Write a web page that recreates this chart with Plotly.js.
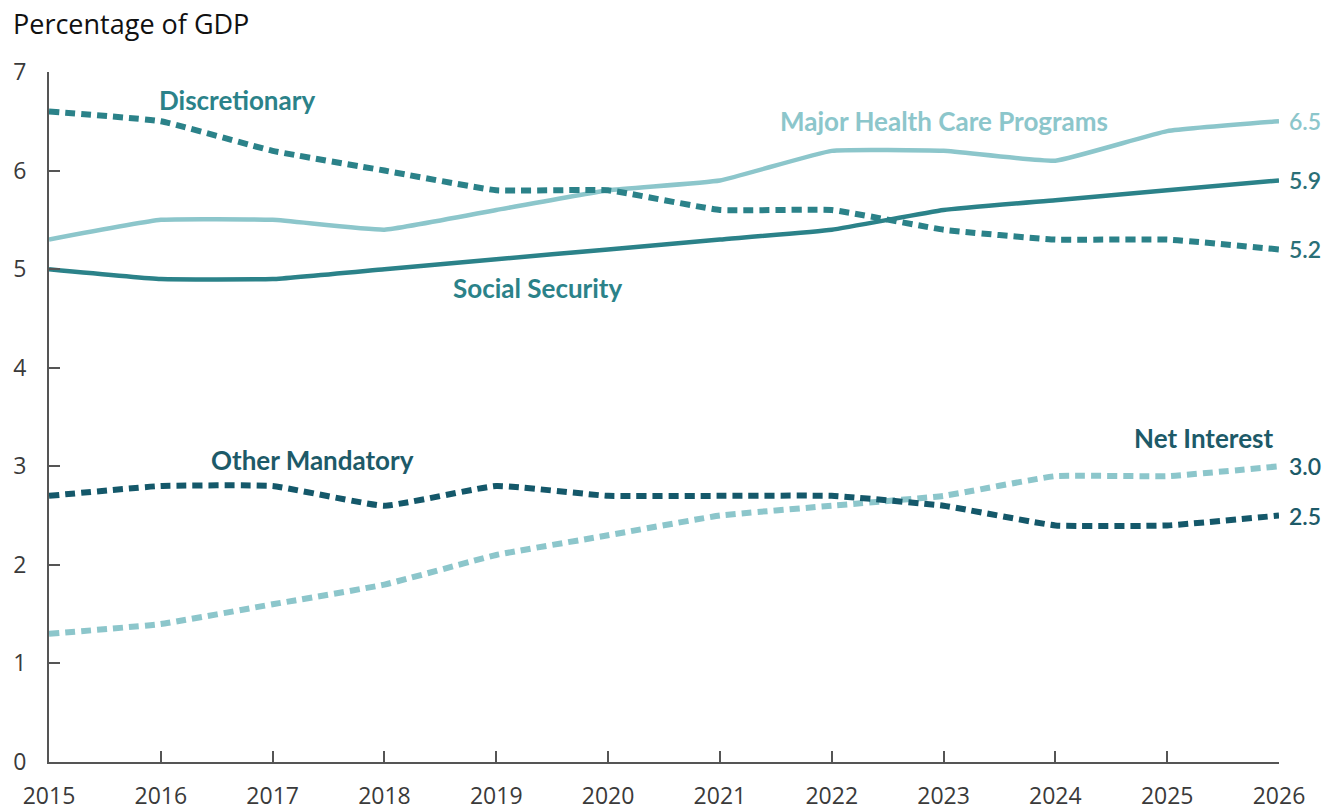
<!DOCTYPE html>
<html>
<head>
<meta charset="utf-8">
<script src="https://cdn.plot.ly/plotly-3.0.1.min.js"></script>
<style>html,body{margin:0;padding:0;background:#fff}#chart{width:1327px;height:811px}</style>
</head>
<body>
<div id="chart"></div>
<script>
const years = [2015,2016,2017,2018,2019,2020,2021,2022,2023,2024,2025,2026];
const discretionary = [6.6,6.5,6.2,6.0,5.8,5.8,5.6,5.6,5.4,5.3,5.3,5.2];
const majorHealth = [5.3,5.5,5.5,5.4,5.6,5.8,5.9,6.2,6.2,6.1,6.4,6.5];
const socialSecurity = [5.0,4.9,4.9,5.0,5.1,5.2,5.3,5.4,5.6,5.7,5.8,5.9];
const otherMandatory = [2.7,2.8,2.8,2.6,2.8,2.7,2.7,2.7,2.6,2.4,2.4,2.5];
const netInterest = [1.3,1.4,1.6,1.8,2.1,2.3,2.5,2.6,2.7,2.9,2.9,3.0];
const yTicks = [0,1,2,3,4,5,6,7];

const TEAL = '#2b8289', LIGHT = '#8cc6cb', DARK = '#14586a';
const dash = '10px,6px';
function tr(y, color, d){
  return {x: years, y: y, type:'scatter', mode:'lines', hoverinfo:'skip',
    line:{color: color, width: d ? 6 : 4.5, dash: d || 'solid', shape:'spline', smoothing:0.35}};
}
const data = [
  tr(netInterest, LIGHT, dash),
  tr(otherMandatory, DARK, dash),
  tr(majorHealth, LIGHT),
  tr(socialSecurity, TEAL),
  tr(discretionary, TEAL, dash)
];
const labFont = (c)=>({family:'Lato, "Open Sans", sans-serif', size:26, color:c, weight:700});
const endFont = (c)=>({family:'Lato, sans-serif', size:23, color:c, weight:600});
const last = (a)=>a[a.length-1];
const ann = [
  {x:2016.68, y:6.72, text:'Discretionary', font:labFont('#2b8289'), xanchor:'center', yanchor:'middle'},
  {x:2023.0, y:6.5, text:'Major Health Care Programs', font:labFont('#8cc6cb'), xanchor:'center', yanchor:'middle'},
  {x:2019.37, y:4.81, text:'Social Security', font:labFont('#2b8289'), xanchor:'center', yanchor:'middle'},
  {x:2017.36, y:3.06, text:'Other Mandatory', font:labFont('#1d5a68'), xanchor:'center', yanchor:'middle'},
  {x:2025.96, y:3.29, text:'Net Interest', font:labFont('#1d5a68'), xanchor:'right', yanchor:'middle'},
  {x:2026, y:last(majorHealth), text:last(majorHealth).toFixed(1), font:endFont('#8cc6cb'), xanchor:'left', yanchor:'middle', xshift:8},
  {x:2026, y:last(socialSecurity), text:last(socialSecurity).toFixed(1), font:endFont('#2a6f77'), xanchor:'left', yanchor:'middle', xshift:8},
  {x:2026, y:last(discretionary), text:last(discretionary).toFixed(1), font:endFont('#2a6f77'), xanchor:'left', yanchor:'middle', xshift:8},
  {x:2026, y:last(netInterest), text:last(netInterest).toFixed(1), font:endFont('#1d5a68'), xanchor:'left', yanchor:'middle', xshift:8},
  {x:2026, y:last(otherMandatory), text:last(otherMandatory).toFixed(1), font:endFont('#1d5a68'), xanchor:'left', yanchor:'middle', xshift:8}
].map(a=>Object.assign({showarrow:false, xref:'x', yref:'y'}, a));

const layout = {
  width:1327, height:811,
  margin:{l:49, r:48, t:72, b:49},
  paper_bgcolor:'#fff', plot_bgcolor:'#fff',
  showlegend:false,
  title:{text:'Percentage of GDP', x:13/1327, xanchor:'left', xref:'container', y:1-25/811, yanchor:'middle', yref:'container',
    font:{family:'"Open Sans", sans-serif', size:27, color:'#111'}},
  xaxis:{range:[2015,2026], tickmode:'array', tickvals:years, ticktext:years.map(String),
    showgrid:false, zeroline:false, showline:true, linecolor:'#555', linewidth:2,
    ticks:'inside', ticklen:11, tickwidth:2, tickcolor:'#555',
    tickfont:{family:'"Open Sans", sans-serif', size:23, color:'#3a3a3a'}, ticklabelstandoff:12},
  yaxis:{range:[0,7], tickmode:'array', tickvals:yTicks, ticktext:yTicks.map(String),
    showgrid:false, zeroline:false, showline:true, linecolor:'#555', linewidth:2,
    ticks:'inside', ticklen:11, tickwidth:2, tickcolor:'#555',
    tickfont:{family:'"Open Sans", sans-serif', size:23, color:'#3a3a3a'}, ticklabelstandoff:16},
  annotations: ann
};
Plotly.newPlot('chart', data, layout, {displayModeBar:false, staticPlot:true});
</script>
</body>
</html>
